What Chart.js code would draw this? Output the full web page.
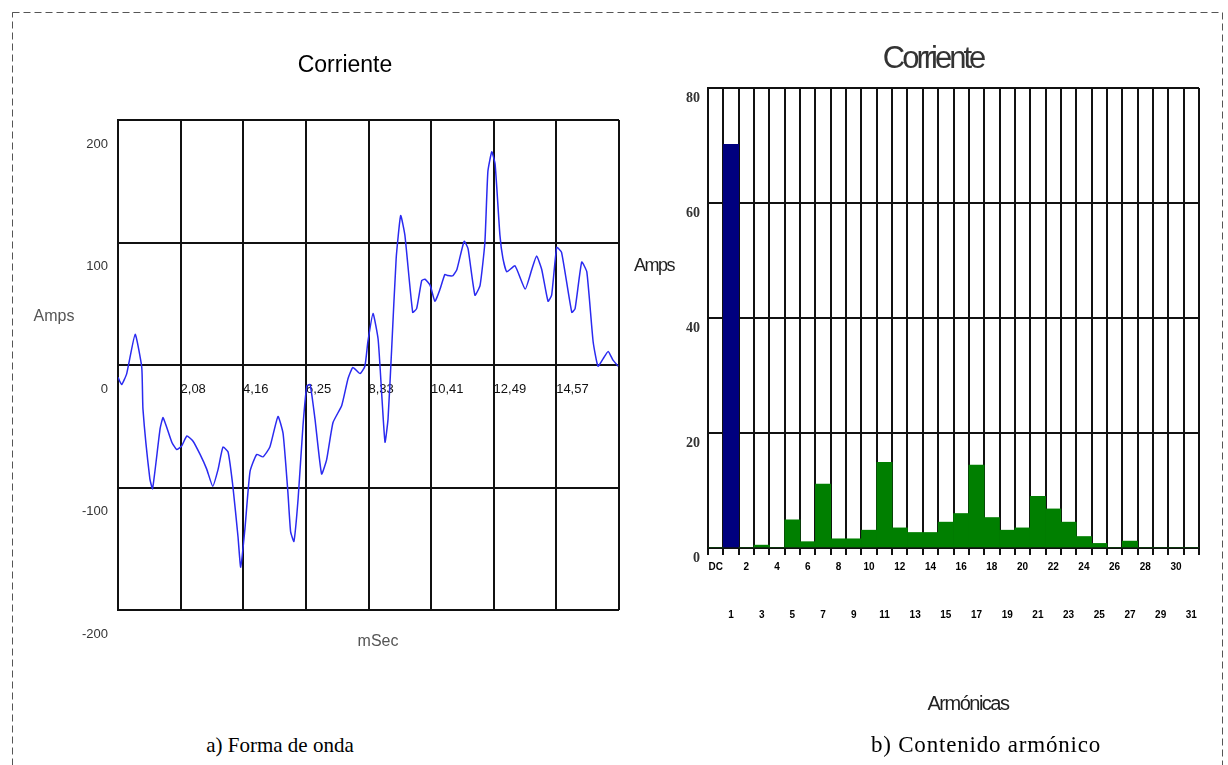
<!DOCTYPE html>
<html>
<head>
<meta charset="utf-8">
<script src="https://cdn.jsdelivr.net/npm/chart.js@4.4.0/dist/chart.umd.min.js"></script>
<style>
  body { margin: 0; width: 1228px; height: 765px; background: #fff; position: relative; overflow: hidden; font-family: Arial, "Liberation Sans", sans-serif; }
  .box { position: absolute; }
  .lbl { position: absolute; white-space: nowrap; transform: translate(-50%, -50%); }
  .cap { font-family: "Liberation Serif", "Times New Roman", serif; font-size: 21px; color: #000; }
</style>
</head>
<body>
<svg class="box" style="left:0;top:0" width="1228" height="765">
  <rect x="12.5" y="12.5" width="1210" height="800" fill="none" stroke="#555" stroke-width="1" stroke-dasharray="7 4"/>
</svg>

<div class="box" style="left:0;top:0;width:640px;height:700px"><canvas id="wave"></canvas></div>
<div class="box" style="left:620px;top:0;width:608px;height:700px"><canvas id="harm"></canvas></div>

<div class="lbl" style="left:345px;top:64px;font-size:23px;color:#000">Corriente</div>
<div class="lbl" style="left:54px;top:316px;font-size:16px;color:#555">Amps</div>
<div class="lbl" style="left:378px;top:641px;font-size:16px;color:#555">mSec</div>

<div class="lbl" style="left:933px;top:58px;font-size:31px;letter-spacing:-3px;color:#333">Corriente</div>
<div class="lbl" style="left:654px;top:265px;font-size:18px;letter-spacing:-1.5px;color:#222">Amps</div>
<div class="lbl" style="left:968px;top:703px;font-size:20px;letter-spacing:-1.5px;color:#222">Armónicas</div>

<div class="lbl cap" style="left:280px;top:745px">a) Forma de onda</div>
<div class="lbl cap" style="left:986px;top:745px;font-size:23px;letter-spacing:0.8px">b) Contenido armónico</div>

<script>
// waveform samples: time (ms) and current (A)
const timeMs = [0, 0.12, 0.29, 0.57, 0.79, 0.83, 1.06, 1.15, 1.40, 1.50,
  1.79, 1.95, 2.12, 2.29, 2.49, 2.73, 2.95, 3.15, 3.33, 3.49,
  3.66, 3.82, 3.99, 4.08, 4.22, 4.39, 4.61, 4.82, 5.05, 5.32,
  5.49, 5.65, 5.74, 5.85, 5.99, 6.15, 6.28, 6.39, 6.55, 6.77,
  6.94, 7.15, 7.44, 7.65, 7.81, 8.05, 8.21, 8.31, 8.48, 8.65,
  8.78, 8.88, 8.98, 9.10, 9.25, 9.40, 9.54, 9.80, 9.93, 10.10,
  10.21, 10.38, 10.54, 10.71, 10.87, 10.97, 11.14, 11.27, 11.51, 11.64,
  11.87, 12.04, 12.20, 12.30, 12.43, 12.54, 12.70, 12.80, 12.93, 13.20,
  13.54, 13.76, 13.92, 14.09, 14.30, 14.42, 14.59, 14.75, 15.09, 15.20,
  15.42, 15.59, 15.80, 15.96, 16.13, 16.30, 16.46, 16.63];
const currentA = [-10, -16, -7, 25, -2, -36, -93, -101, -52, -43,
  -63, -69, -66, -58, -62, -73, -85, -99, -85, -67,
  -71, -99, -140, -165, -134, -87, -73, -75, -67, -42,
  -56, -104, -136, -144, -109, -50, -17, -16, -44, -89,
  -77, -47, -33, -11, -2, -7, -1, 19, 42, 21,
  -28, -63, -44, 13, 87, 122, 106, 43, 46, 69,
  70, 65, 52, 62, 74, 73, 73, 78, 101, 95,
  57, 65, 100, 158, 174, 164, 106, 87, 76, 81,
  62, 78, 89, 78, 52, 57, 96, 92, 43, 46,
  84, 76, 19, -1, 5, 11, 4, -1];
const timeTicks = [0, 2.08, 4.16, 6.25, 8.33, 10.41, 12.49, 14.57, 16.66];
const waveTicks = [-200, -100, 0, 100, 200];

// harmonic spectrum
const harmonicLabels = ['DC', '1', '2', '3', '4', '5', '6', '7', '8', '9', '10',
  '11', '12', '13', '14', '15', '16', '17', '18', '19', '20',
  '21', '22', '23', '24', '25', '26', '27', '28', '29', '30', '31'];
const harmonicAmps = [0, 70.2, 0, 0.5, 0, 4.9, 1.1, 11.1, 1.6, 1.6, 3.1,
  14.9, 3.5, 2.7, 2.7, 4.5, 6.0, 14.4, 5.3, 3.1, 3.5,
  9.0, 6.8, 4.5, 2.0, 0.8, 0, 1.2, 0, 0, 0, 0];
const harmTicks = [0, 20, 40, 60, 80];

const gridBlack = { color: '#111', lineWidth: 2, drawTicks: false };

new Chart(document.getElementById('wave'), {
    type: 'line',
    data: {
        datasets: [{
            data: timeMs.map((t, i) => ({ x: t, y: currentA[i] })),
            borderColor: '#2a2af0',
            borderWidth: 1.5,
            pointRadius: 0,
            tension: 0.15
        }]
    },
    options: {
        responsive: true,
        maintainAspectRatio: false,
        animation: false,
        layout: { padding: { left: 78, top: 120, right: 21, bottom: 90 } },
        plugins: { legend: { display: false }, tooltip: { enabled: false } },
        scales: {
            x: {
                type: 'linear',
                position: { y: 0 },   // time labels sit on the zero line
                min: 0,
                max: 16.66,
                afterBuildTicks: s => { s.ticks = timeTicks.map(v => ({ value: v })); },
                grid: gridBlack,
                border: { color: '#111', width: 2 },
                ticks: {
                    align: 'start',
                    padding: 17,
                    autoSkip: false,
                    maxRotation: 0,
                    color: '#111',
                    font: { size: 13, family: 'Arial' },
                    callback: v => (v === 0 || v === 16.66) ? '' : v.toFixed(2).replace('.', ',')
                }
            },
            y: {
                min: -200,
                max: 200,
                afterBuildTicks: s => { s.ticks = waveTicks.map(v => ({ value: v })); },
                afterFit: s => { s.width = 40; },
                grid: gridBlack,
                border: { color: '#111', width: 2 },
                ticks: { labelOffset: 24, padding: 10, color: '#333', font: { size: 13, family: 'Arial' } }
            }
        }
    }
});

new Chart(document.getElementById('harm'), {
    type: 'bar',
    data: {
        labels: harmonicLabels,
        datasets: [{
            data: harmonicAmps,
            // fundamental in navy, the rest in green
            backgroundColor: harmonicLabels.map(h => h === '1' ? '#00007f' : '#007f00'),
            borderWidth: 0,
            barPercentage: 1,
            categoryPercentage: 1
        }]
    },
    options: {
        responsive: true,
        maintainAspectRatio: false,
        animation: false,
        layout: { padding: { left: 58, top: 88, right: 29, bottom: 72 } },
        plugins: { legend: { display: false }, tooltip: { enabled: false } },
        scales: {
            x: {
                afterFit: s => { s.height = 80; },
                grid: { color: '#111', lineWidth: 2, tickLength: 7, offset: true },
                border: { color: '#111', width: 2 },
                ticks: {
                    autoSkip: false,
                    maxRotation: 0,
                    padding: 0,
                    color: '#000',
                    font: { size: 10, weight: 'bold', family: 'Arial', lineHeight: '24px' },
                    // even orders on the first row, odd orders two rows lower
                    callback: (v, i) => i % 2 === 0 ? [harmonicLabels[i]] : ['', '', harmonicLabels[i]]
                }
            },
            y: {
                min: 0,
                max: 80,
                afterBuildTicks: s => { s.ticks = harmTicks.map(v => ({ value: v })); },
                afterFit: s => { s.width = 30; },
                grid: gridBlack,
                border: { color: '#111', width: 2 },
                ticks: { labelOffset: 10, padding: 8, color: '#333', font: { size: 14, weight: 'bold', family: 'Liberation Serif' } }
            }
        }
    }
});
</script>
</body>
</html>
